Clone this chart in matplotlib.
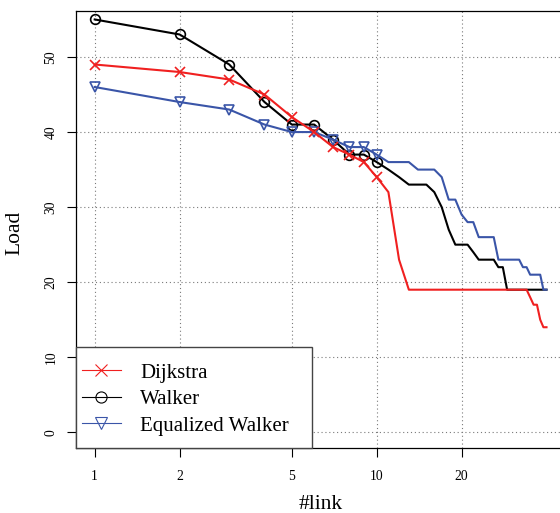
import numpy as np
import matplotlib.pyplot as plt
from matplotlib.lines import Line2D
from matplotlib.patches import Rectangle

plt.rcParams['font.family'] = ['Liberation Serif', 'DejaVu Serif']

# number of links (x) and load per scheme
links = list(range(1, 41))
dijkstra = [49, 48, 47, 45, 42, 40, 38, 37, 36, 34,
            32, 23, 19, 19, 19, 19, 19, 19, 19, 19,
            19, 19, 19, 19, 19, 19, 19, 19, 19, 19,
            19, 19, 19, 19, 18, 17, 17, 15, 14, 14]
walker = [55, 53, 49, 44, 41, 41, 39, 37, 37, 36,
          35, 34, 33, 33, 33, 32, 30, 27, 25, 25,
          25, 24, 23, 23, 23, 23, 22, 22, 19, 19,
          19, 19, 19, 19, 19, 19, 19, 19, 19, 19]
eq_walker = [46, 44, 43, 41, 40, 40, 39, 38, 38, 37,
             36, 36, 36, 35, 35, 35, 34, 31, 31, 29,
             28, 28, 26, 26, 26, 26, 23, 23, 23, 23,
             23, 23, 22, 22, 21, 21, 21, 21, 19, 19]

labels = ['Dijkstra', 'Walker', 'Equalized Walker']
colors = ['#F02020', 'black', '#3A55A8']
markers = ['x', 'o', 'v']
x_ticks = [1, 2, 5, 10, 20]
y_ticks = [0, 10, 20, 30, 40, 50]

fig = plt.figure(figsize=(5.6, 5.13), dpi=100)
ax = fig.add_axes([0.1363, 0.1261, 0.8718, 0.8525])

series = [walker, eq_walker, dijkstra]
order = [1, 2, 0]
for s, i in zip(series, order):
    ax.plot(links, s, color=colors[i], lw=1.5, marker=markers[i],
            markevery=list(range(10)), ms=7, mfc='none', mec=colors[i],
            mew=1.2, zorder=3)

ax.set_xscale('log')
ax.set_xlim(10 ** -0.0652, 10 ** 1.666)
ax.set_ylim(-2.13, 56.13)
ax.set_xticks(x_ticks)
ax.set_xticklabels([str(t) for t in x_ticks])
ax.xaxis.set_minor_locator(plt.NullLocator())
ax.set_yticks(y_ticks)
ax.set_yticklabels([str(t) for t in y_ticks], rotation=90, va='center')

ax.tick_params(axis='both', direction='out', length=6.5, width=0.8,
               labelsize=9.8, color='black')
ax.tick_params(axis='x', pad=9)
ax.tick_params(axis='y', pad=7)
ax.grid(True, color='#7a7a7a', lw=0.8, linestyle=(0, (1, 2.5)))
for sp in ax.spines.values():
    sp.set_linewidth(0.9)

ax.set_xlabel('#link', fontsize=15.5)
ax.set_ylabel('Load', fontsize=15.5)
ax.xaxis.set_label_coords(0.5, -0.128)
ax.xaxis.label.set_va('center')
ax.yaxis.set_label_coords(-0.1256, 0.492)
ax.yaxis.label.set_va('center')

# legend box (filled white, sits over the grid)
ax.add_patch(Rectangle((0, 0), 0.4834, 0.2323, transform=ax.transAxes,
                       facecolor='white', edgecolor='#444444', lw=1.0,
                       zorder=4, clip_on=False))
handles = [Line2D([], [], color=colors[i], lw=0.8, marker=markers[i],
                  ms=8, mfc='none', mec=colors[i], mew=0.8)
           for i in range(3)]
leg = ax.legend(handles, labels, loc='center left',
                bbox_to_anchor=(0.0117, 0.112), frameon=False,
                fontsize=15, borderpad=0, borderaxespad=0,
                handlelength=1.86, handletextpad=0.93, labelspacing=0.33)
leg.set_zorder(5)

fig.savefig('out.png', dpi=100)
